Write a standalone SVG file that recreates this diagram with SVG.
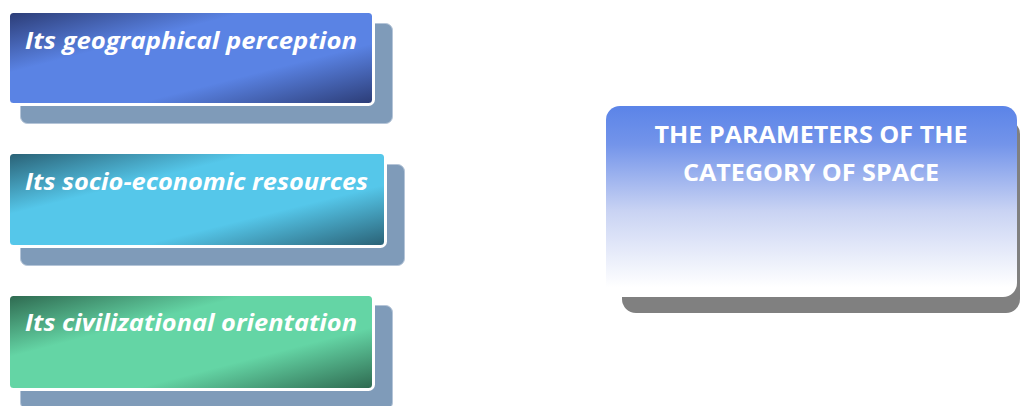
<svg xmlns="http://www.w3.org/2000/svg" width="1020" height="406" viewBox="0 0 1020 406">
<defs>
<linearGradient id="g1" x1="0" y1="0" x2="1" y2="1"><stop offset="0" stop-color="#2b3b74"/><stop offset="0.33" stop-color="#5a83e4"/><stop offset="0.67" stop-color="#5a83e4"/><stop offset="1" stop-color="#2b3b74"/></linearGradient>
<linearGradient id="g2" x1="0" y1="0" x2="1" y2="1"><stop offset="0" stop-color="#295f73"/><stop offset="0.33" stop-color="#55c7ea"/><stop offset="0.67" stop-color="#55c7ea"/><stop offset="1" stop-color="#295f73"/></linearGradient>
<linearGradient id="g3" x1="0" y1="0" x2="1" y2="1"><stop offset="0" stop-color="#2d674e"/><stop offset="0.33" stop-color="#64d5a5"/><stop offset="0.67" stop-color="#64d5a5"/><stop offset="1" stop-color="#2d674e"/></linearGradient>
<linearGradient id="g4" x1="0" y1="0" x2="0" y2="1"><stop offset="0" stop-color="#5b84e8"/><stop offset="0.2" stop-color="#7394ea"/><stop offset="0.55" stop-color="#c9d3f3"/><stop offset="0.95" stop-color="#ffffff"/></linearGradient>
<style>
.sh{fill:#7f9bb9;stroke:#b5c5d8;stroke-width:1}
.mb{stroke:#ffffff;stroke-width:3}
.lt{font-family:"Open Sans","Liberation Sans",sans-serif;font-weight:bold;font-style:italic;font-size:23.5px;fill:#ffffff}
.ct{font-family:"Open Sans","Liberation Sans",sans-serif;font-weight:bold;font-size:22.5px;fill:#ffffff;text-anchor:middle}
</style>
</defs>
<g id="node1">
<rect class="sh" x="20.5" y="23.5" width="372" height="100" rx="7"/>
<rect class="mb" x="8.5" y="11.5" width="365" height="93" rx="5" fill="url(#g1)"/>
<text class="lt" x="25" y="49" textLength="332" lengthAdjust="spacingAndGlyphs">Its geographical perception</text>
</g>
<g id="node2">
<rect class="sh" x="20.5" y="164.5" width="384" height="101" rx="7"/>
<rect class="mb" x="8.5" y="152.5" width="377" height="94" rx="5" fill="url(#g2)"/>
<text class="lt" x="25" y="190" textLength="343" lengthAdjust="spacingAndGlyphs">Its socio-economic resources</text>
</g>
<g id="node3">
<rect class="sh" x="20.5" y="305.5" width="372" height="104" rx="7"/>
<rect class="mb" x="8.5" y="294.5" width="365" height="95" rx="5" fill="url(#g3)"/>
<text class="lt" x="25" y="331" textLength="332" lengthAdjust="spacingAndGlyphs">Its civilizational orientation</text>
</g>
<g id="node4">
<rect x="622" y="120" width="398" height="193" rx="14" fill="#808080"/>
<rect x="606" y="106" width="411" height="191" rx="14" fill="url(#g4)"/>
<text class="ct" x="811" y="143" textLength="313" lengthAdjust="spacingAndGlyphs">THE PARAMETERS OF THE</text>
<text class="ct" x="811" y="181" textLength="256" lengthAdjust="spacingAndGlyphs">CATEGORY OF SPACE</text>
</g>
<g id="connectors"/>
</svg>
